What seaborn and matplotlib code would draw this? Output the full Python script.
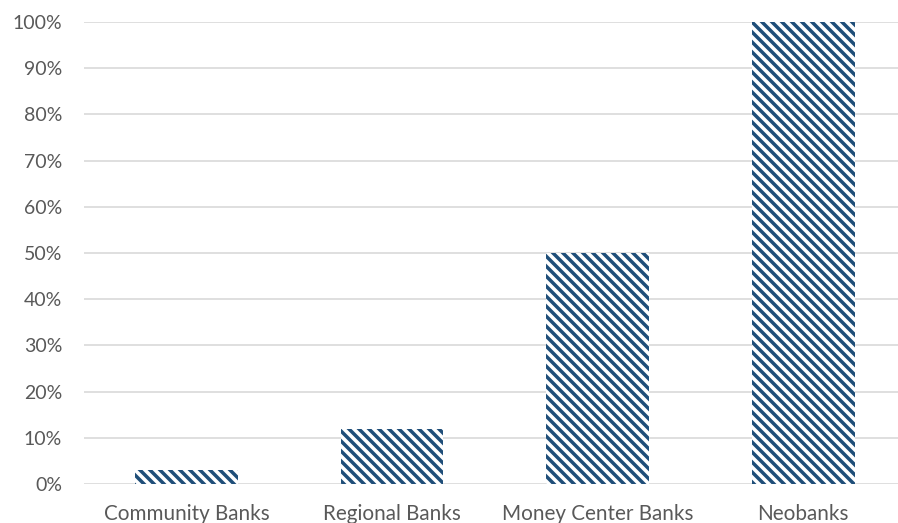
import matplotlib
matplotlib.use("Agg")
import matplotlib.pyplot as plt
import matplotlib.ticker as mticker
import seaborn as sns
import pandas as pd

categories = ["Community Banks", "Regional Banks", "Money Center Banks", "Neobanks"]
shares = [0.03, 0.12, 0.50, 1.00]
y_ticks = [0.0, 0.1, 0.2, 0.3, 0.4, 0.5, 0.6, 0.7, 0.8, 0.9, 1.0]

BLUE = "#1F4E79"
TEXT = "#595959"
GRID = "#D9D9D9"

sns.set_theme(style="white")
plt.rcParams["font.family"] = ["Lato", "DejaVu Sans"]
plt.rcParams["hatch.linewidth"] = 2.1

DPI = 120
fig = plt.figure(figsize=(898 / DPI, 523 / DPI), dpi=DPI)
ax = fig.add_axes([83.75 / 898, 39 / 523, (906 - 83.75) / 898, 462 / 523])

df = pd.DataFrame({"category": categories, "share": shares})
sns.barplot(data=df, x="category", y="share", ax=ax, width=0.5,
            color="white", edgecolor=BLUE, linewidth=0, zorder=3)
# dense downward-diagonal fill on every bar
for p in ax.patches:
    p.set_hatch("\\\\\\\\")

ax.set_ylim(0, 1.0)
ax.set_xlim(-0.5, len(categories) - 0.5)
ax.set_yticks(y_ticks)
ax.yaxis.set_major_formatter(mticker.PercentFormatter(1.0, decimals=0))
ax.grid(axis="y", color=GRID, linewidth=1.0, zorder=0)
ax.set_axisbelow(True)
for s in ax.spines.values():
    s.set_visible(False)
ax.set_xlabel("")
ax.set_ylabel("")
ax.tick_params(axis="both", length=0, colors=TEXT)
ax.tick_params(axis="y", pad=13, labelsize=11.7)
ax.tick_params(axis="x", pad=12, labelsize=12.4)

fig.savefig("out.png", dpi=DPI)
